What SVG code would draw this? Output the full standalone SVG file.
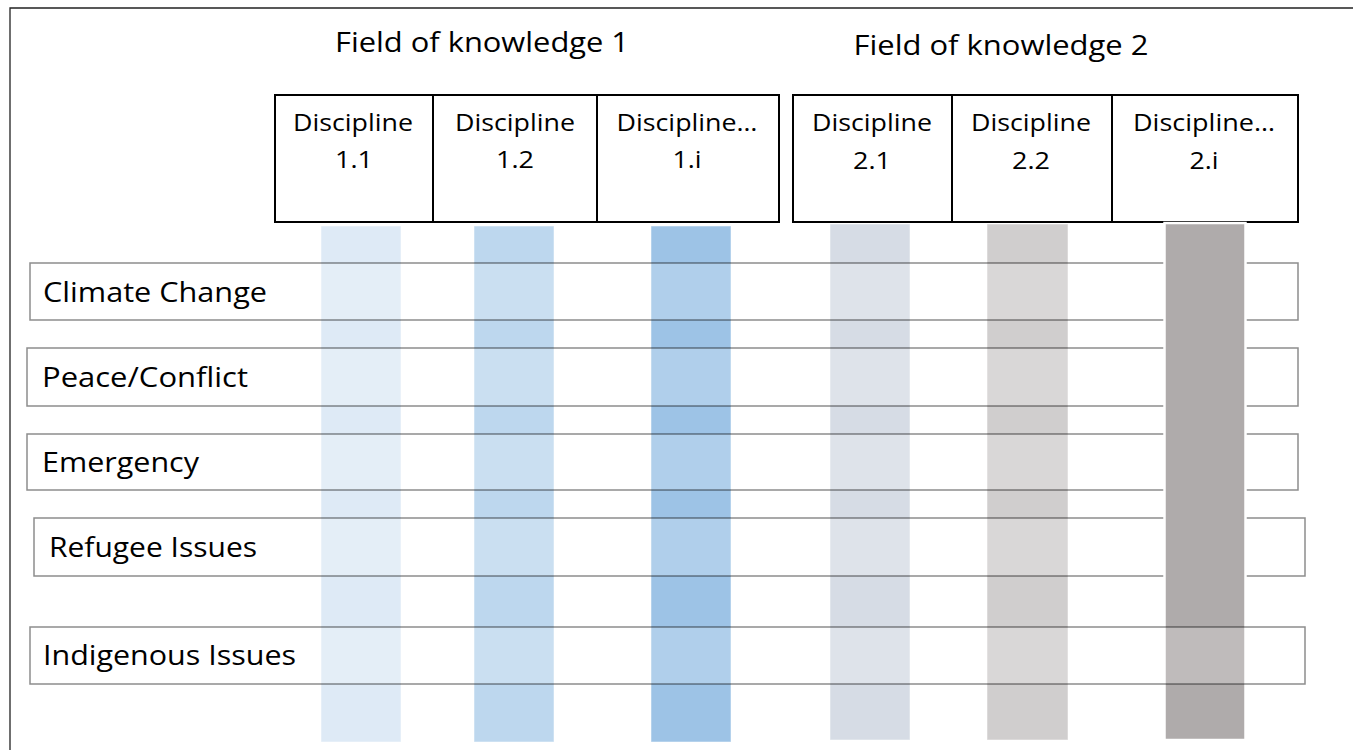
<svg xmlns="http://www.w3.org/2000/svg" width="1353" height="750" viewBox="0 0 1353 750">
<style>
.t{font-family:"Open Sans","Noto Sans","Liberation Sans",sans-serif;fill:#000}
.h{font-size:27px;text-anchor:middle}
.d{font-size:23.5px;text-anchor:middle}
.r{font-size:27.5px}
.box{fill:#fff;stroke:#000;stroke-width:2}
.div{stroke:#000;stroke-width:2}
.row{fill:#fff;fill-opacity:0.2;stroke:#000;stroke-opacity:0.45;stroke-width:1.5}
.bar{stroke:#fff;stroke-opacity:0.5;stroke-width:1}
</style>
<rect width="1353" height="750" fill="#fff"/>
<path d="M10,760 V8 H1360" fill="none" stroke="#222" stroke-width="1.3"/>

<g id="field1">
<text class="t h" x="482" y="52" textLength="294" lengthAdjust="spacingAndGlyphs">Field of knowledge 1</text>
</g>
<g id="field2">
<text class="t h" x="1001" y="55" textLength="295" lengthAdjust="spacingAndGlyphs">Field of knowledge 2</text>
</g>

<g id="disciplines1">
<rect class="box" x="275" y="95" width="504" height="127"/>
<line class="div" x1="433" y1="95" x2="433" y2="222"/>
<line class="div" x1="597" y1="95" x2="597" y2="222"/>
</g>
<g id="disciplines2">
<rect class="box" x="793" y="95" width="505" height="127"/>
<line class="div" x1="952" y1="95" x2="952" y2="222"/>
<line class="div" x1="1112" y1="95" x2="1112" y2="222"/>
</g>

<g id="d11"><text class="t d" x="353" y="131" textLength="120" lengthAdjust="spacingAndGlyphs">Discipline</text><text class="t d" x="354" y="168" textLength="38" lengthAdjust="spacingAndGlyphs">1.1</text></g>
<g id="d12"><text class="t d" x="515" y="131" textLength="120" lengthAdjust="spacingAndGlyphs">Discipline</text><text class="t d" x="515" y="168" textLength="38" lengthAdjust="spacingAndGlyphs">1.2</text></g>
<g id="d1i"><text class="t d" x="687" y="131" textLength="141" lengthAdjust="spacingAndGlyphs">Discipline…</text><text class="t d" x="687" y="168" textLength="29" lengthAdjust="spacingAndGlyphs">1.i</text></g>
<g id="d21"><text class="t d" x="872" y="131" textLength="120" lengthAdjust="spacingAndGlyphs">Discipline</text><text class="t d" x="872" y="169" textLength="38" lengthAdjust="spacingAndGlyphs">2.1</text></g>
<g id="d22"><text class="t d" x="1031" y="131" textLength="120" lengthAdjust="spacingAndGlyphs">Discipline</text><text class="t d" x="1031" y="169" textLength="38" lengthAdjust="spacingAndGlyphs">2.2</text></g>
<g id="d2i"><text class="t d" x="1204" y="131" textLength="142" lengthAdjust="spacingAndGlyphs">Discipline…</text><text class="t d" x="1204" y="169" textLength="29" lengthAdjust="spacingAndGlyphs">2.i</text></g>

<g id="bars">
<rect class="bar" x="321" y="226" width="80" height="516" fill="#DEEAF6"/>
<rect class="bar" x="474" y="226" width="80" height="516" fill="#BDD7EE"/>
<rect class="bar" x="651" y="226" width="80" height="516" fill="#9DC3E6"/>
<rect class="bar" x="830" y="224" width="80" height="516" fill="#D6DCE5"/>
<rect class="bar" x="987" y="224" width="81" height="516" fill="#D0CECE"/>
</g>

<g id="climate">
<rect class="row" x="30" y="263" width="1268" height="57"/>
<text class="t r" x="43" y="302" textLength="224" lengthAdjust="spacingAndGlyphs">Climate Change</text>
</g>
<g id="peace">
<rect class="row" x="27" y="348" width="1271" height="58"/>
<text class="t r" x="42" y="387" textLength="206" lengthAdjust="spacingAndGlyphs">Peace/Conflict</text>
</g>
<g id="emergency">
<rect class="row" x="27" y="434" width="1271" height="56"/>
<text class="t r" x="42" y="472" textLength="157" lengthAdjust="spacingAndGlyphs">Emergency</text>
</g>
<g id="refugee">
<rect class="row" x="34" y="518" width="1271" height="58"/>
<text class="t r" x="49" y="557" textLength="208" lengthAdjust="spacingAndGlyphs">Refugee Issues</text>
</g>

<g id="bar2i">
<rect x="1164.5" y="223" width="81" height="517" fill="#AFABAB" stroke="#fff" stroke-width="2.5"/>
</g>

<g id="indigenous">
<rect class="row" x="30" y="627" width="1275" height="57"/>
<text class="t r" x="43" y="665" textLength="253" lengthAdjust="spacingAndGlyphs">Indigenous Issues</text>
</g>
</svg>
